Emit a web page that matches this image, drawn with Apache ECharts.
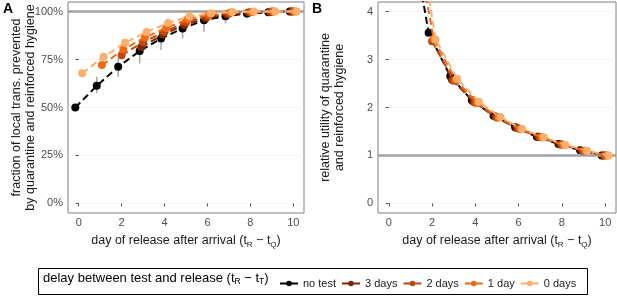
<!DOCTYPE html>
<html>
<head>
<meta charset="utf-8">
<script src="https://cdn.jsdelivr.net/npm/echarts@6/dist/echarts.min.js"></script>
<style>
    html, body { margin: 0; padding: 0; background: #fff; }
    #chart { width: 617px; height: 296px; }
</style>
</head>
<body>
<div id="chart"></div>
<script>
// days after arrival
const days = [0, 1, 2, 3, 4, 5, 6, 7, 8, 9, 10];
const seriesNames = ['no test', '3 days', '2 days', '1 day', '0 days'];

// A: fraction of local transmission prevented (%)
const fracNoTest = [50, 61.3, 71.2, 79.4, 86.0, 91.2, 95.5, 97.6, 99.0, 99.6, 100];
const frac3 = [null, null, null, 81.5, 88.0, 93.0, 96.5, 98.5, 99.5, 99.8, 100];
const frac2 = [null, null, 77.3, 84.0, 89.5, 94.5, 97.5, 99.0, 99.7, 100, 100];
const frac1 = [null, 72.1, 80.2, 86.5, 91.5, 96.0, 98.5, 99.5, 99.8, 100, 100];
const frac0 = [67.8, 76.4, 83.7, 89.4, 94.1, 97.5, 99.2, 99.8, 100, 100, 100];
// error bars of 'no test'
const errLow = [50, 57.5, 66.0, 73.0, 80.0, 86.0, 89.5, 93.8, 96.5, 98.0, 99.5];
const errHigh = [50, 66.0, 76.0, 81.5, 87.5, 92.5, 96.5, 98.5, 99.5, 100, 100];

// B: relative utility
const utilNoTest = [null, 6.15, 3.56, 2.65, 2.15, 1.83, 1.59, 1.39, 1.24, 1.11, 1.0];
const util3 = [null, null, null, 2.58, 2.12, 1.81, 1.57, 1.39, 1.23, 1.10, 1.0];
const util2 = [null, null, 3.38, 2.56, 2.10, 1.79, 1.56, 1.38, 1.23, 1.10, 1.0];
const util1 = [null, 5.9, 3.42, 2.58, 2.10, 1.79, 1.55, 1.38, 1.22, 1.10, 1.0];
const util0 = [null, 6.3, 3.42, 2.60, 2.12, 1.80, 1.55, 1.38, 1.22, 1.10, 1.0];

const xTicks = [0, 2, 4, 6, 8, 10];
const yTicksA = [0, 25, 50, 75, 100];
const yTicksB = [0, 1, 2, 3, 4];
const refA = 100;
const refB = 1;

const colors = ['#000000', '#7f2704', '#c2470c', '#f16913', '#fdae6b'];
const dodge = [-0.16, -0.08, 0, 0.08, 0.16];
const font = 'Liberation Sans, Arial, sans-serif';

function pairs(vals, off) {
    let out = [];
    vals.forEach((v, i) => {
        if (v !== null) out.push([days[i] + off, v]);
    });
    return out;
}

let chart = echarts.init(document.getElementById('chart'));

const gridLine = { show: true, lineStyle: { color: '#ececec', width: 0.6 } };
const tickStyle = { show: true, length: 3, lineStyle: { color: '#555' } };
const subRich = {
    s: { fontSize: 8, fontFamily: font, color: '#1a1a1a', verticalAlign: 'bottom', lineHeight: 8 }
};

function xAxis(grid) {
    return {
        type: 'value', gridIndex: grid, min: -0.5, max: 10.5,
        name: 'day of release after arrival (t{s|R} − t{s|Q})',
        nameLocation: 'middle', nameGap: 18,
        nameTextStyle: { fontSize: 12.5, fontFamily: font, color: '#1a1a1a', lineHeight: 16, rich: subRich },
        axisLine: { show: false },
        axisTick: Object.assign({ customValues: xTicks }, tickStyle),
        axisLabel: { customValues: xTicks, fontSize: 11, color: '#4d4d4d', fontFamily: font, margin: 4 },
        splitLine: { show: false }
    };
}

function yAxis(grid, min, max, ticks, name, fmt, gap) {
    return {
        type: 'value', gridIndex: grid, min: min, max: max,
        name: name, nameLocation: 'middle', nameGap: gap, nameMoveOverlap: false,
        nameTextStyle: { fontSize: 12.5, fontFamily: font, color: '#1a1a1a', lineHeight: 14 },
        axisLine: { show: false },
        axisTick: Object.assign({ customValues: ticks }, tickStyle),
        axisLabel: { customValues: ticks, fontSize: 11, color: '#4d4d4d', fontFamily: font, margin: 5, formatter: fmt },
        splitLine: Object.assign({ customValues: ticks }, gridLine)
    };
}

const fracs = [fracNoTest, frac3, frac2, frac1, frac0];
const utils = [utilNoTest, util3, util2, util1, util0];

let series = [];

// error bars behind points
series.push({
    type: 'custom', xAxisIndex: 0, yAxisIndex: 0, silent: true, z: 1,
    data: days.map((d, i) => [d + dodge[0], errLow[i], errHigh[i]]),
    renderItem: function (params, api) {
        let p1 = api.coord([api.value(0), api.value(1)]);
        let p2 = api.coord([api.value(0), api.value(2)]);
        return { type: 'line', shape: { x1: p1[0], y1: p1[1], x2: p2[0], y2: p2[1] }, style: { stroke: '#a6a6a6', lineWidth: 1.5 } };
    }
});

// reference lines
series.push({
    type: 'line', xAxisIndex: 0, yAxisIndex: 0, data: [], silent: true, z: 1,
    markLine: { symbol: 'none', silent: true, label: { show: false }, lineStyle: { color: '#a0a0a0', width: 2.5, type: 'solid' }, data: [{ yAxis: refA }] }
});
series.push({
    type: 'line', xAxisIndex: 1, yAxisIndex: 1, data: [], silent: true, z: 1,
    markLine: { symbol: 'none', silent: true, label: { show: false }, lineStyle: { color: '#a0a0a0', width: 2.5, type: 'solid' }, data: [{ yAxis: refB }] }
});

seriesNames.forEach((name, k) => {
    let common = {
        name: name, type: 'line', symbol: 'circle', symbolSize: 8,
        itemStyle: { color: colors[k] },
        lineStyle: { color: colors[k], width: 2, type: [7, 4] },
        emphasis: { disabled: true }, animation: false, z: 3 + k
    };
    series.push(Object.assign({ xAxisIndex: 0, yAxisIndex: 0, data: pairs(fracs[k], dodge[k]) }, common));
    series.push(Object.assign({ xAxisIndex: 1, yAxisIndex: 1, data: pairs(utils[k], dodge[k]) }, common));
});

let option = {
    animation: false,
    textStyle: { fontFamily: font },
    grid: [
        { left: 68, right: 313, top: 2, bottom: 83, show: true, borderColor: '#7f7f7f', borderWidth: 1, backgroundColor: '#fff' },
        { left: 378, right: 1, top: 2, bottom: 83, show: true, borderColor: '#7f7f7f', borderWidth: 1, backgroundColor: '#fff' }
    ],
    xAxis: [xAxis(0), xAxis(1)],
    yAxis: [
        yAxis(0, -5, 105, yTicksA, 'fraction of local trans. prevented\nby quarantine and reinforced hygiene', '{value}%', 30),
        yAxis(1, -0.2, 4.2, yTicksB, 'relative utility of quarantine\nand reinforced hygiene', '{value}', 31)
    ],
    legend: {
        data: seriesNames, left: 274, top: 273, itemWidth: 18, itemHeight: 7, itemGap: 5,
        lineStyle: { type: 'solid', width: 2 },
        textStyle: { fontSize: 11, fontFamily: font, color: '#1a1a1a' },
        selectedMode: false
    },
    graphic: [
        { type: 'text', left: 3, top: 2, style: { text: 'A', font: 'bold 14px ' + font, fill: '#000' } },
        { type: 'text', left: 312, top: 2, style: { text: 'B', font: 'bold 14px ' + font, fill: '#000' } },
        { type: 'rect', left: 36, top: 266, shape: { width: 549, height: 26 }, style: { fill: 'none', stroke: '#000', lineWidth: 1 } },
        {
            type: 'text', left: 43, top: 270,
            style: {
                text: 'delay between test and release (t{s|R} − t{s|T})',
                font: '13px ' + font, fill: '#000', lineHeight: 16,
                rich: { s: { fontSize: 8.5, fontFamily: font, fill: '#000', verticalAlign: 'bottom', lineHeight: 8 } }
            }
        }
    ],
    series: series
};

chart.setOption(option);
</script>
</body>
</html>
